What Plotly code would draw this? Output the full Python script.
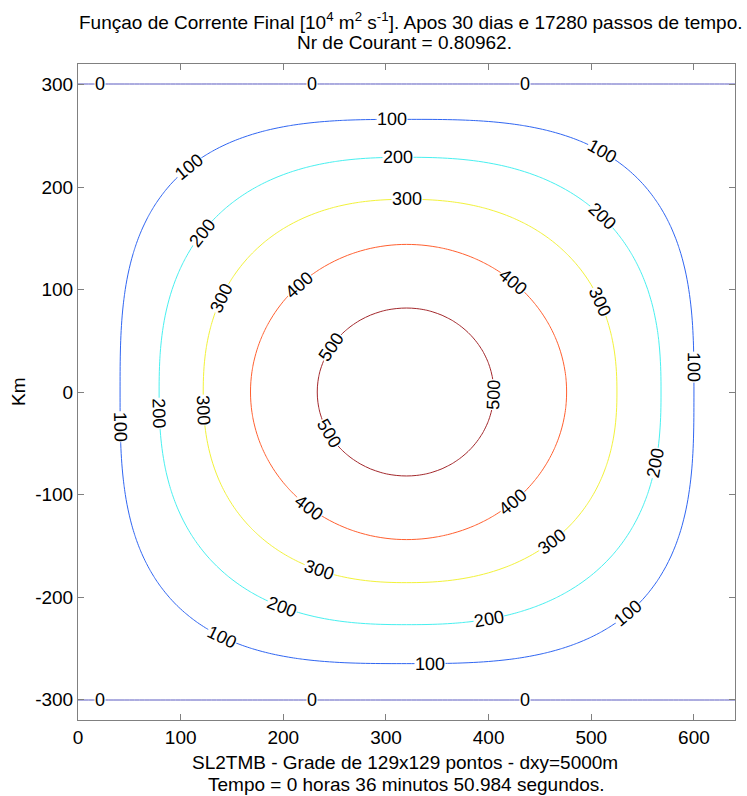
import numpy as np
import plotly.graph_objects as go

# Model grid: 129 x 129 points, dxy = 5 km
NX = 129
X_KM = np.linspace(0, 640, NX)
Y_KM = np.linspace(-320, 320, NX)

# Gyre centre, peak stream function and basin walls (psi = 0)
CENTER_X, CENTER_Y = 320.0, 0.0
PSI_CENTER = 550.0
WALL_X = (-2.0, 642.0)
WALL_Y = 300.5

# Contour levels [10^4 m^2 s^-1]; for each one the distance (km) from the gyre
# centre where it crosses the E, N, W and S axes, and the squareness of the ring
LEVELS = [500, 400, 300, 200, 100]
HALF_E = [85, 156, 205, 248, 280]
HALF_N = [82, 144, 188, 229, 266]
HALF_W = [87, 152, 198, 241, 279]
HALF_S = [82, 144, 186, 227, 265]
SHAPE_P = [2.0, 2.0, 2.3, 2.5, 3.0]

# Inline contour labels: polar angle (deg) around the gyre centre for each level
LABEL_ANGLES_500 = [149, 358, 208]
LABEL_ANGLES_400 = [135, 46, 230, 314]
LABEL_ANGLES_300 = [90, 153, 25, 185, 314, 244]
LABEL_ANGLES_200 = [92, 142, 42, 185, 344, 240, 290]
LABEL_ANGLES_100 = [93, 134, 51, 187, 5, 233, 315, 275]
LABEL_ANGLES = [LABEL_ANGLES_500, LABEL_ANGLES_400, LABEL_ANGLES_300,
                LABEL_ANGLES_200, LABEL_ANGLES_100]
ZERO_LABEL_X = [21, 228, 435]

# Line colours of the contour levels 0, 100, ..., 500
LEVEL_COLORS = ["#5a5ac0", "#3066f2", "#48f0f0", "#f2f23a", "#ff6030", "#a3282c"]

X_TICKS = [0, 100, 200, 300, 400, 500, 600]
Y_TICKS = [-300, -200, -100, 0, 100, 200, 300]
Y_TICKTEXT = ["-300", "-200", "-100", "0", "100", "200", "300"]

FONT = "Liberation Sans, Arial, sans-serif"
FS = 19

# Plot-area pixel scale (used to orient the inline labels)
PX_PER_KM_X = 657 / 640
PX_PER_KM_Y = 656 / 640


def ring_radius(k, theta):
    """Distance from the centre to contour ring k along direction theta."""
    c, s = np.cos(theta), np.sin(theta)
    a = np.where(c >= 0, HALF_E[k], HALF_W[k])
    b = np.where(s >= 0, HALF_N[k], HALF_S[k])
    p = SHAPE_P[k]
    return ((np.abs(c) / a) ** p + (np.abs(s) / b) ** p) ** (-1.0 / p)


def wall_distance(theta):
    """Distance from the gyre centre to the basin walls along direction theta."""
    ct, st = np.cos(theta), np.sin(theta)
    with np.errstate(divide="ignore", invalid="ignore"):
        tx = np.where(ct > 1e-12, (WALL_X[1] - CENTER_X) / ct,
                      np.where(ct < -1e-12, (WALL_X[0] - CENTER_X) / ct, np.inf))
        ty = np.where(np.abs(st) > 1e-12, WALL_Y / np.abs(st), np.inf)
    return np.minimum(tx, ty)


def pchip_eval(xk, yk, x):
    """Monotone cubic (Fritsch-Carlson) interpolation of one profile at x."""
    h = np.diff(xk)
    d = np.diff(yk) / h
    m = np.zeros_like(yk)
    for i in range(1, len(xk) - 1):
        if d[i - 1] * d[i] > 0:
            w1 = 2 * h[i] + h[i - 1]
            w2 = h[i] + 2 * h[i - 1]
            m[i] = (w1 + w2) / (w1 / d[i - 1] + w2 / d[i])
    m[0] = 0.0  # flat top at the gyre centre
    m[-1] = d[-1]
    i = int(np.clip(np.searchsorted(xk, x) - 1, 0, len(xk) - 2))
    t = (x - xk[i]) / h[i]
    h00 = 2 * t**3 - 3 * t**2 + 1
    h10 = t**3 - 2 * t**2 + t
    h01 = -2 * t**3 + 3 * t**2
    h11 = t**3 - t**2
    return h00 * yk[i] + h10 * h[i] * m[i] + h01 * yk[i + 1] + h11 * h[i] * m[i + 1]


# Stream-function field: smooth in distance between the level rings
XX, YY = np.meshgrid(X_KM, Y_KM)
dx, dy = XX - CENTER_X, YY - CENTER_Y
rr = np.hypot(dx, dy)
th = np.arctan2(dy, dx)

ring_r = [ring_radius(k, th) for k in range(len(LEVELS))]
rb = wall_distance(th)
knots_r = np.stack([np.zeros_like(rr)] + ring_r + [rb], axis=-1)
knots_v = np.array([PSI_CENTER] + LEVELS + [0.0])

psi = np.empty_like(rr)
for i in range(rr.shape[0]):
    for j in range(rr.shape[1]):
        kr = knots_r[i, j]
        r = rr[i, j]
        if r <= kr[-1]:
            psi[i, j] = pchip_eval(kr, knots_v, r)
        else:
            slope = (knots_v[-1] - knots_v[-2]) / (kr[-1] - kr[-2])
            psi[i, j] = slope * (r - kr[-1])

colorscale = [[k / (len(LEVEL_COLORS) - 1), c] for k, c in enumerate(LEVEL_COLORS)]

fig = go.Figure(
    go.Contour(
        x=X_KM,
        y=Y_KM,
        z=psi,
        autocontour=False,
        contours=dict(start=0, end=500, size=100, coloring="lines", showlabels=False),
        colorscale=colorscale,
        zmin=0,
        zmax=500,
        showscale=False,
        line=dict(width=1),
        hoverinfo="skip",
    )
)


def label_angle(dxv, dyv):
    """Screen rotation (deg, clockwise) of a label lying along direction (dxv, dyv)."""
    ang = np.degrees(np.arctan2(-dyv * PX_PER_KM_Y, dxv * PX_PER_KM_X))
    while ang > 90:
        ang -= 180
    while ang <= -90:
        ang += 180
    return float(ang)


def add_label(x, y, text, angle):
    fig.add_annotation(x=x, y=y, xref="x", yref="y", text=text, showarrow=False,
                       textangle=angle, bgcolor="white", borderpad=0,
                       xanchor="center", yanchor="middle",
                       font=dict(family=FONT, size=18, color="black"))


# Labels on the closed rings
for k, level in enumerate(LEVELS):
    for a_deg in LABEL_ANGLES[k]:
        t = np.radians(a_deg)
        eps = 1e-3
        p0 = ring_radius(k, np.array(t - eps)) * np.array([np.cos(t - eps), np.sin(t - eps)])
        p1 = ring_radius(k, np.array(t + eps)) * np.array([np.cos(t + eps), np.sin(t + eps)])
        r = float(ring_radius(k, np.array(t)))
        add_label(CENTER_X + r * np.cos(t), CENTER_Y + r * np.sin(t), str(level),
                  label_angle(p1[0] - p0[0], p1[1] - p0[1]))

# Labels on the psi = 0 lines along the northern and southern walls
for xl in ZERO_LABEL_X:
    for yl in (WALL_Y, -WALL_Y):
        add_label(xl, yl, "0", 0.0)

axis_common = dict(
    showgrid=False,
    zeroline=False,
    showline=True,
    linecolor="#808080",
    linewidth=1,
    mirror="ticks",
    ticks="inside",
    ticklen=6,
    tickcolor="#808080",
    tickfont=dict(family=FONT, size=FS, color="black"),
)

fig.update_layout(
    width=747,
    height=796,
    margin=dict(l=78, r=12, t=64, b=76),
    paper_bgcolor="white",
    plot_bgcolor="white",
    showlegend=False,
    xaxis=dict(range=[0, 640], tickvals=X_TICKS, **axis_common),
    yaxis=dict(range=[-320, 320], tickvals=Y_TICKS, ticktext=Y_TICKTEXT, **axis_common),
    font=dict(family=FONT, size=FS, color="black"),
)

texts = [
    dict(text="Funçao de Corrente Final [10<sup>4</sup> m<sup>2</sup> s<sup>-1</sup>]. "
              "Apos 30 dias e 17280 passos de tempo.", x=0.507, y=1.066),
    dict(text="Nr de Courant = 0.80962.", x=0.497, y=1.0335),
    dict(text="SL2TMB - Grade de 129x129 pontos - dxy=5000m", x=0.498, y=-0.0655),
    dict(text="Tempo = 0 horas 36 minutos 50.984 segundos.", x=0.50, y=-0.0976),
]
for t in texts:
    fig.add_annotation(xref="paper", yref="paper", x=t["x"], y=t["y"], text=t["text"],
                       showarrow=False, xanchor="center", yanchor="middle",
                       font=dict(family=FONT, size=FS, color="black"))

fig.add_annotation(xref="paper", yref="paper", x=-0.0913, y=0.5, text="Km", textangle=-90,
                   showarrow=False, xanchor="center", yanchor="middle",
                   font=dict(family=FONT, size=FS, color="black"))

fig.write_html("out.html")
